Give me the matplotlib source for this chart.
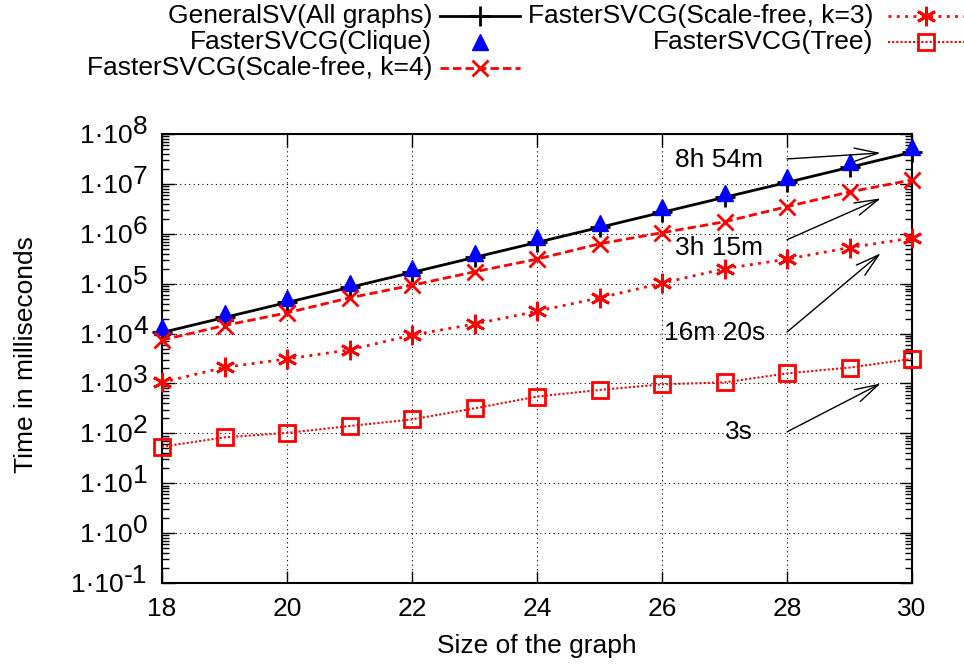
"""
Runtime of GeneralSV vs FasterSVCG on several graph families (log scale)
"""
import matplotlib
matplotlib.use("Agg")
import matplotlib.pyplot as plt
import numpy as np
from matplotlib.lines import Line2D
from matplotlib.ticker import FixedLocator, LogLocator, NullFormatter

FONT = "Liberation Sans"
FS = 19

sizes = list(range(18, 31))
general_sv = [10500, 21000, 42000, 84000, 168000, 336000, 672000, 1340000,
              2690000, 5380000, 10700000, 21500000, 43000000]
clique = [13500, 26000, 52000, 105000, 210000, 420000, 860000, 1650000,
          3400000, 6600000, 13500000, 27000000, 55000000]
scale_free_k4 = [7400, 14500, 26000, 52000, 93000, 173000, 310000, 630000,
                 1050000, 1740000, 3500000, 6900000, 12000000]
scale_free_k3 = [1050, 2100, 3100, 4700, 9300, 15500, 28000, 52000,
                 102000, 200000, 310000, 530000, 820000]
tree = [54, 83, 102, 140, 190, 317, 545, 740, 960, 1050, 1590, 2080, 3100]

y_exponents = list(range(-1, 9))

# labels: (text, text left x, text log y, arrow start, arrow end)
notes = [
    ("8h 54m", 26.21, 7.48, (28.0, 7.50), (29.5, 7.62)),
    ("3h 15m", 26.21, 5.72, (28.0, 5.88), (29.5, 6.71)),
    ("16m 20s", 26.03, 4.02, (28.0, 4.03), (29.5, 5.61)),
    ("3s", 27.01, 2.03, (28.0, 2.03), (29.5, 3.00)),
]

plt.rcParams["font.family"] = [FONT, "DejaVu Sans"]
plt.rcParams["font.size"] = FS

W, H = 964, 669
fig = plt.figure(figsize=(W / 100, H / 100), dpi=100)
ax = fig.add_axes([162 / W, 1 - 583 / H, (912 - 162) / W, (583 - 134) / H])

asterisk = (6, 2, 0)
series = [
    dict(y=general_sv, label="GeneralSV(All graphs)", color="black", ls="-",
         lw=2, marker="+", ms=14, mew=2, mfc="black"),
    dict(y=clique, label="FasterSVCG(Clique)", color="blue", ls="none",
         lw=0, marker="^", ms=12, mew=1, mfc="blue"),
    dict(y=scale_free_k4, label="FasterSVCG(Scale-free, k=4)", color="red",
         ls=(0, (3, 1.5)), lw=2, marker="x", ms=12, mew=2, mfc="red"),
    dict(y=scale_free_k3, label="FasterSVCG(Scale-free, k=3)", color="red",
         ls=(0, (1, 2)), lw=2, marker=asterisk, ms=14, mew=2, mfc="red"),
    dict(y=tree, label="FasterSVCG(Tree)", color="red",
         ls=(0, (1, 1)), lw=1.5, marker="s", ms=11, mew=2, mfc="none"),
]

for s in series:
    ax.plot(sizes, s["y"], color=s["color"], linestyle=s["ls"], linewidth=s["lw"],
            marker=s["marker"], markersize=s["ms"], markeredgewidth=s["mew"],
            markerfacecolor=s["mfc"], markeredgecolor=s["color"], clip_on=False,
            zorder=3)

ax.set_yscale("log")
ax.set_xlim(18, 30)
ax.set_ylim(1e-1, 1e8)
ax.xaxis.set_major_locator(FixedLocator(range(18, 31, 2)))
ax.yaxis.set_major_locator(FixedLocator([10.0 ** k for k in y_exponents]))
ax.yaxis.set_minor_locator(LogLocator(base=10, subs=np.arange(2, 10), numticks=30))
ax.yaxis.set_minor_formatter(NullFormatter())
ax.yaxis.set_major_formatter(NullFormatter())

# gnuplot style "1·10^k" labels, exponent at nearly full size
for e in y_exponents:
    base = ax.annotate("1·10", xy=(0, 10.0 ** e),
                       xycoords=("axes fraction", "data"),
                       xytext=(-29 if e >= 0 else -38, -2),
                       textcoords="offset pixels", ha="right", va="center",
                       fontsize=FS)
    ax.annotate(str(e), xy=(1, 0.5), xycoords=base, xytext=(0, 9),
                textcoords="offset pixels", ha="left", va="center", fontsize=FS)

ax.tick_params(which="both", direction="in", top=True, right=True,
               labelsize=FS, color="black")
ax.tick_params(which="major", length=9, width=1, pad=10)
ax.tick_params(which="minor", length=5, width=1)
ax.grid(True, which="major", color="black", linestyle=(0, (1, 3)), linewidth=0.8)
for sp in ax.spines.values():
    sp.set_linewidth(1.5)

ax.set_xlabel("Size of the graph", fontsize=FS, va="top")
ax.xaxis.set_label_coords(0.5, (583 - 634) / 449)
ax.set_ylabel("Time in milliseconds", fontsize=FS)
ax.yaxis.set_label_coords((38 - 162) / 750, (583 - 355) / 449)

for text, tx, ty, start, end in notes:
    ax.text(tx, 10 ** ty, text, fontsize=FS, ha="left", va="center")
    ax.annotate("", xy=(end[0], 10 ** end[1]), xytext=(start[0], 10 ** start[1]),
                arrowprops=dict(arrowstyle="->,head_length=0.9,head_width=0.25",
                                color="black", lw=1, shrinkA=0, shrinkB=0))

# key in two columns above the plot, text right-aligned before the sample
key_slots = [(432, 440, 520, 16), (432, 440, 520, 42), (432, 440, 520, 68),
             (873, 888, 964, 16), (873, 888, 964, 42)]
for s, (tr, x0, x1, yc) in zip(series, key_slots):
    fy = 1 - yc / H
    fig.text(tr / W, fy, s["label"], ha="right", va="center", fontsize=FS)
    if s["ls"] != "none":
        fig.add_artist(Line2D([x0 / W, x1 / W], [fy, fy], transform=fig.transFigure,
                              color=s["color"], linestyle=s["ls"], linewidth=s["lw"]))
    fig.add_artist(Line2D([(x0 + x1) / 2 / W], [fy], transform=fig.transFigure,
                          linestyle="none", marker=s["marker"], markersize=s["ms"],
                          markeredgewidth=s["mew"], markerfacecolor=s["mfc"],
                          markeredgecolor=s["color"]))

fig.savefig("out.png", dpi=100)
